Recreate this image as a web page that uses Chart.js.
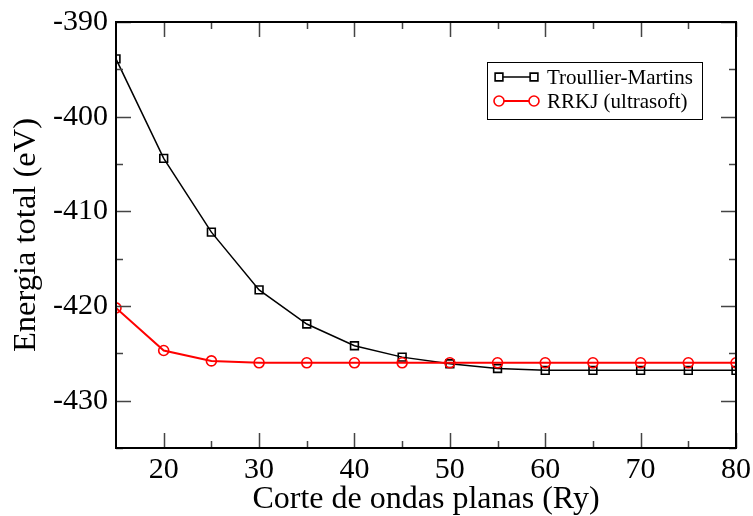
<!DOCTYPE html>
<html lang="es">
<head>
<meta charset="utf-8"/>
<title>Energia total vs corte</title>
<script src="https://cdn.jsdelivr.net/npm/chart.js"></script>
<style>
  html, body { margin: 0; padding: 0; background: #fff; }
  #wrap { width: 753px; height: 516px; }
</style>
</head>
<body>
<div id="wrap"><canvas id="plot"></canvas></div>
<script>
// corte de ondas planas (Ry)
var cutoffs = [15, 20, 25, 30, 35, 40, 45, 50, 55, 60, 65, 70, 75, 80];
// energia total (eV)
var troullierMartins = [-393.9, -404.4, -412.2, -418.3, -421.9, -424.2, -425.4, -426.1, -426.6, -426.8, -426.8, -426.8, -426.8, -426.8];
var rrkjUltrasoft = [-420.2, -424.7, -425.8, -426.0, -426.0, -426.0, -426.0, -426.0, -426.0, -426.0, -426.0, -426.0, -426.0, -426.0];
var seriesNames = ['Troullier-Martins', 'RRKJ (ultrasoft)'];
// major tick values
var xTickValues = [20, 30, 40, 50, 60, 70, 80];
var yTickValues = [-430, -420, -410, -400, -390];

var FONT = '"Liberation Serif", "Times New Roman", serif';

function points(ys) {
  return cutoffs.map(function (x, i) { return { x: x, y: ys[i] }; });
}

function setTicks(values) {
  return function (s) {
    s.ticks = values.map(function (v) { return { value: v }; });
  };
}

// frame with inward ticks on all four sides, like xmgrace
var framePlugin = {
  id: 'frame',
  afterDatasetsDraw: function (chart) {
    var ctx = chart.ctx, a = chart.chartArea;
    var xs = chart.scales.x, ys = chart.scales.y;
    ctx.save();
    ctx.strokeStyle = '#444';
    ctx.lineWidth = 1.5;
    function xticks(vals, len) {
      vals.forEach(function (v) {
        var px = Math.round(xs.getPixelForValue(v)) + 0.5;
        ctx.beginPath();
        ctx.moveTo(px, a.bottom); ctx.lineTo(px, a.bottom - len);
        ctx.moveTo(px, a.top); ctx.lineTo(px, a.top + len);
        ctx.stroke();
      });
    }
    function yticks(vals, len) {
      vals.forEach(function (v) {
        var py = Math.round(ys.getPixelForValue(v)) + 0.5;
        ctx.beginPath();
        ctx.moveTo(a.left, py); ctx.lineTo(a.left + len, py);
        ctx.moveTo(a.right, py); ctx.lineTo(a.right - len, py);
        ctx.stroke();
      });
    }
    var xMajor = xs.ticks.map(function (t) { return t.value; });
    var yMajor = ys.ticks.map(function (t) { return t.value; });
    var xMinor = [], yMinor = [];
    for (var i = 0; i < xMajor.length - 1; i++) xMinor.push((xMajor[i] + xMajor[i + 1]) / 2);
    for (var j = 0; j < yMajor.length - 1; j++) yMinor.push((yMajor[j] + yMajor[j + 1]) / 2);
    yMinor.push(yMajor[0] - 5);
    xticks(xMajor, 15); xticks(xMinor, 7);
    yticks(yMajor, 15); yticks(yMinor, 7);
    ctx.strokeStyle = '#000';
    ctx.lineWidth = 2;
    ctx.strokeRect(a.left, a.top, a.right - a.left, a.bottom - a.top);
    ctx.restore();
  }
};

// legend box: marker - line - marker, then the name
var legendPlugin = {
  id: 'boxLegend',
  afterDraw: function (chart) {
    var ctx = chart.ctx, a = chart.chartArea;
    var bx = a.right - 249, by = a.top + 40, bw = 215, bh = 57;
    ctx.save();
    ctx.fillStyle = '#fff';
    ctx.fillRect(bx, by, bw, bh);
    ctx.strokeStyle = '#000';
    ctx.lineWidth = 1;
    ctx.strokeRect(bx + 0.5, by + 0.5, bw, bh);
    ctx.font = '21px ' + FONT;
    ctx.textBaseline = 'middle';
    chart.data.datasets.forEach(function (ds, i) {
      var cy = by + 15 + i * 24;
      var x0 = bx + 12, x1 = bx + 47;
      ctx.strokeStyle = ds.borderColor;
      ctx.lineWidth = ds.borderWidth;
      ctx.beginPath(); ctx.moveTo(x0, cy); ctx.lineTo(x1, cy); ctx.stroke();
      var opts = { pointStyle: ds.pointStyle, radius: ds.pointRadius, rotation: 0, borderWidth: ds.pointBorderWidth };
      ctx.fillStyle = '#fff';
      ctx.strokeStyle = ds.borderColor;
      ctx.lineWidth = ds.pointBorderWidth;
      Chart.helpers.drawPoint(ctx, opts, x0, cy);
      Chart.helpers.drawPoint(ctx, opts, x1, cy);
      ctx.fillStyle = '#000';
      ctx.fillText(ds.label, bx + 60, cy + 1);
    });
    ctx.restore();
  }
};

window.onload = function () {
  var data = {
    datasets: [
      {
        label: seriesNames[0],
        data: points(troullierMartins),
        borderColor: '#000',
        backgroundColor: 'rgba(0,0,0,0)',
        borderWidth: 1.5,
        pointStyle: 'rect',
        pointRadius: 5.5,
        pointBorderWidth: 1.6,
        pointBackgroundColor: 'rgba(0,0,0,0)',
        order: 1
      },
      {
        label: seriesNames[1],
        data: points(rrkjUltrasoft),
        borderColor: '#ff0000',
        backgroundColor: 'rgba(0,0,0,0)',
        borderWidth: 2,
        pointStyle: 'circle',
        pointRadius: 5,
        pointBorderWidth: 1.6,
        pointBackgroundColor: 'rgba(0,0,0,0)',
        order: 0
      }
    ]
  };

  var config = {
    type: 'line',
    data: data,
    plugins: [framePlugin, legendPlugin],
    options: {
      responsive: false,
      animation: false,
      events: [],
      layout: { padding: { top: 22, right: 17, left: 0, bottom: 0 } },
      plugins: { legend: { display: false }, tooltip: { enabled: false } },
      scales: {
        x: {
          type: 'linear',
          min: 15, max: 80,
          grid: { display: false, drawTicks: false, tickLength: 0 },
          border: { display: false },
          ticks: { autoSkip: false, maxRotation: 0, color: '#000', padding: 4, font: { family: FONT, size: 30 } },
          title: { display: true, text: 'Corte de ondas planas (Ry)', color: '#000', padding: { top: 0, bottom: 0 }, font: { family: FONT, size: 32, lineHeight: 1.0 } },
          afterBuildTicks: setTicks(xTickValues),
          afterFit: function (s) { s.height = 68; s.paddingLeft = 0; s.paddingRight = 0; }
        },
        y: {
          type: 'linear',
          min: -435, max: -390,
          grid: { display: false, drawTicks: false, tickLength: 0 },
          border: { display: false },
          ticks: { autoSkip: false, color: '#000', padding: 8, font: { family: FONT, size: 30 } },
          title: { display: true, text: 'Energia total (eV)', color: '#000', padding: { top: 7, bottom: 0 }, font: { family: FONT, size: 32.5 } },
          afterBuildTicks: setTicks(yTickValues),
          afterFit: function (s) { s.width = 116; s.paddingTop = 0; s.paddingBottom = 0; }
        }
      }
    }
  };

  var ctx = document.getElementById('plot');
  ctx.width = 753; ctx.height = 516;
  new Chart(ctx, config);
};
</script>
</body>
</html>
